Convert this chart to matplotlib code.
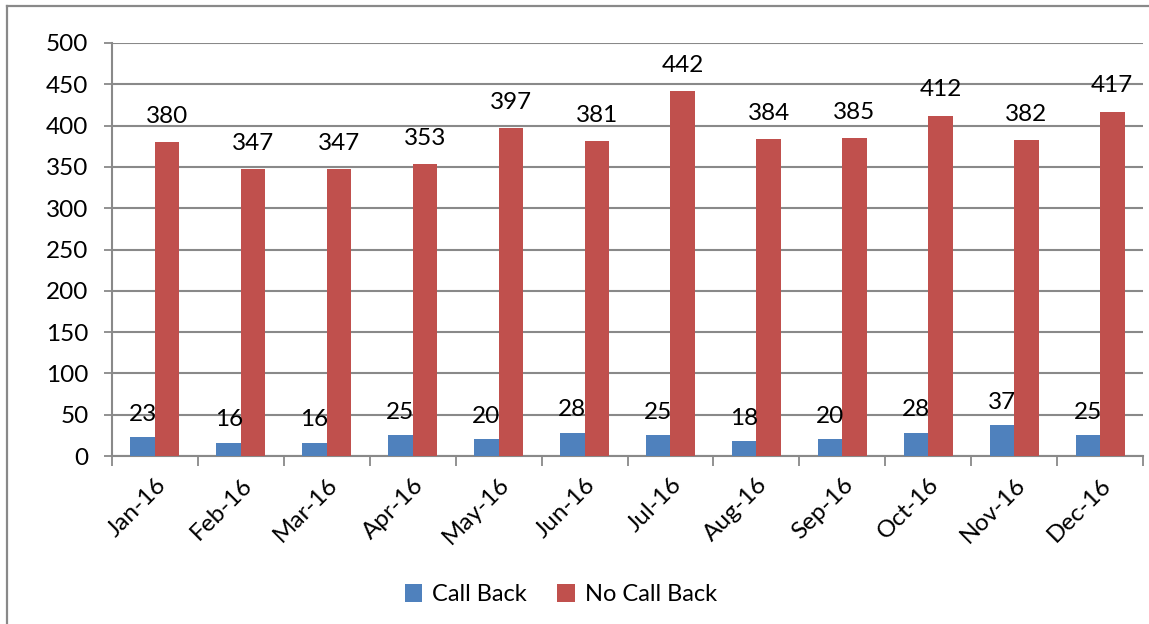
import numpy as np
import matplotlib
matplotlib.use("Agg")
import matplotlib.pyplot as plt
from matplotlib.lines import Line2D

# Chart data
months = ['Jan-16', 'Feb-16', 'Mar-16', 'Apr-16', 'May-16', 'Jun-16',
          'Jul-16', 'Aug-16', 'Sep-16', 'Oct-16', 'Nov-16', 'Dec-16']
call_back = [23, 16, 16, 25, 20, 28, 25, 18, 20, 28, 37, 25]
no_call_back = [380, 347, 347, 353, 397, 381, 442, 384, 385, 412, 382, 417]
y_ticks = [0, 50, 100, 150, 200, 250, 300, 350, 400, 450, 500]

plt.rcParams['font.family'] = ['Lato', 'DejaVu Sans']

blue = '#4F81BD'
red = '#C0504D'
grid_col = '#898989'
fs = 17.5

fig = plt.figure(figsize=(11.49, 6.24), dpi=100)
ax = fig.add_axes([0.0975, 0.2692, 0.8973, 0.6619])

x = np.arange(len(months))
w = 0.285
b1 = ax.bar(x - w / 2, call_back, w, color=blue, zorder=3)
b2 = ax.bar(x + w / 2, no_call_back, w, color=red, zorder=3)

# data labels
for rect, v in zip(b1, call_back):
    ax.annotate(str(v), (rect.get_x() + rect.get_width() / 2, v),
                xytext=(0, 9), textcoords='offset points',
                ha='center', va='bottom', fontsize=fs, color='black')
for rect, v in zip(b2, no_call_back):
    ax.annotate(str(v), (rect.get_x() + rect.get_width() / 2, v),
                xytext=(0, 11), textcoords='offset points',
                ha='center', va='bottom', fontsize=fs, color='black')

ax.set_xlim(-0.5, len(months) - 0.5)
ax.set_ylim(0, 500)
ax.set_yticks(y_ticks)
ax.tick_params(axis='y', labelsize=fs, length=6, width=1.3, color=grid_col, pad=11)
ax.yaxis.grid(True, color=grid_col, linewidth=1.5, zorder=0)

# category boundaries as x ticks, month names as minor labels
ax.set_xticks(np.arange(-0.5, len(months), 1.0))
ax.set_xticklabels([])
ax.tick_params(axis='x', which='major', length=7, width=1.3, color=grid_col)
ax.set_xticks(x, minor=True)
ax.set_xticklabels(months, minor=True, rotation=45, ha='right',
                   rotation_mode='anchor', fontsize=fs)
ax.tick_params(axis='x', which='minor', length=0, pad=13)

for s in ['top', 'right']:
    ax.spines[s].set_visible(False)
for s in ['left', 'bottom']:
    ax.spines[s].set_color(grid_col)
    ax.spines[s].set_linewidth(1.5)

fig.legend([b1, b2], ['Call Back', 'No Call Back'], loc='center',
           bbox_to_anchor=(0.488, 0.047), ncol=2, frameon=False,
           fontsize=17, handlelength=0.75, handleheight=0.75,
           handletextpad=0.4, columnspacing=1.3)

# outer chart frame (left and top edges visible)
fig.add_artist(Line2D([0.0057, 0.0057], [0, 0.990], transform=fig.transFigure,
                      color=grid_col, linewidth=1.6))
fig.add_artist(Line2D([0.0057, 1.0], [0.990, 0.990], transform=fig.transFigure,
                      color=grid_col, linewidth=1.6))

fig.savefig('out.png', dpi=100)
